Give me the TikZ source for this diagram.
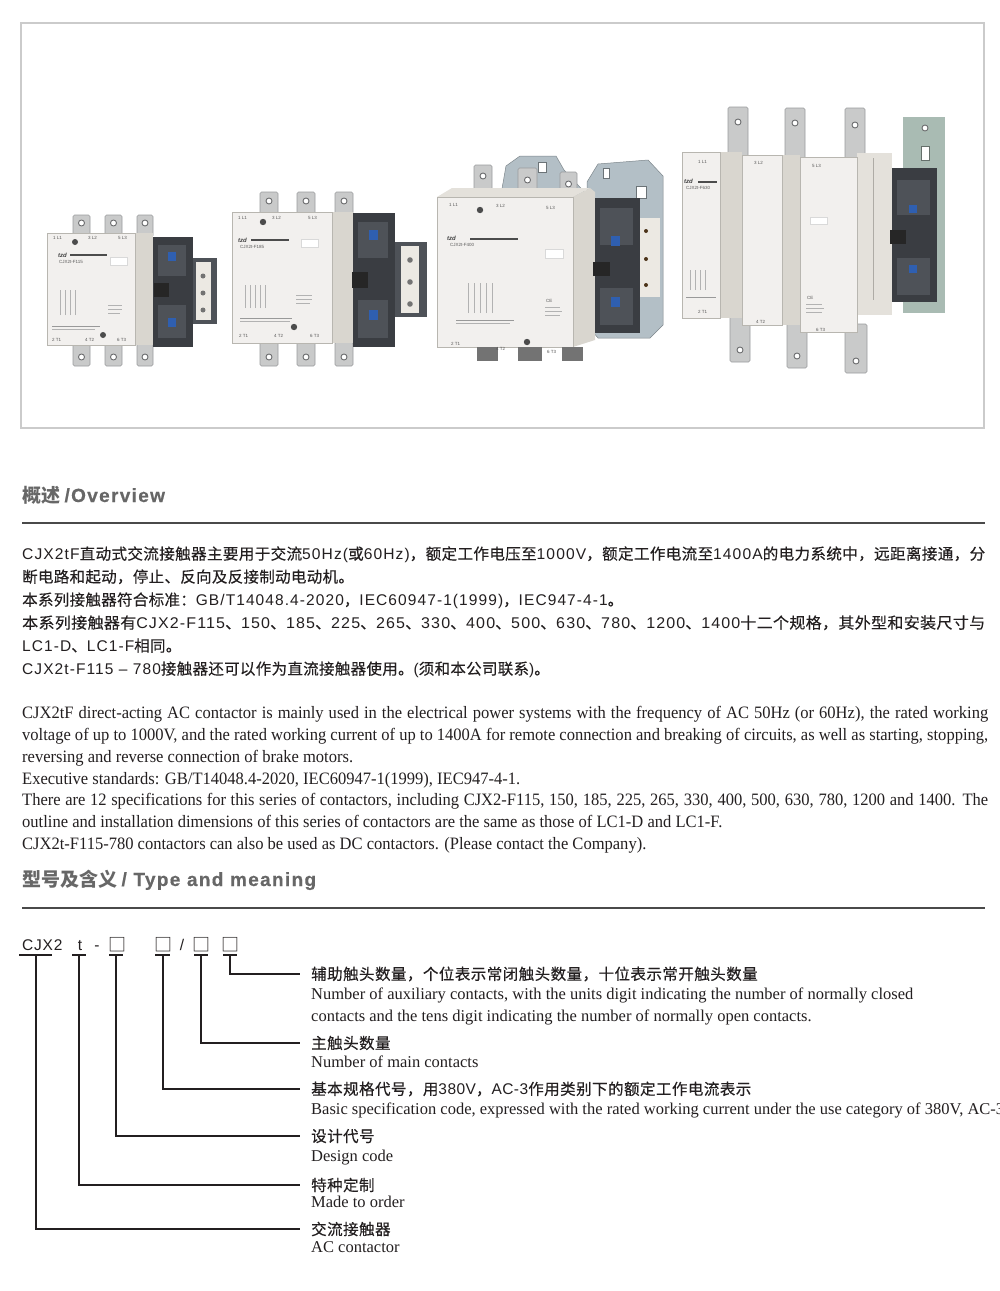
\documentclass[tikz,border=0pt]{standalone}
\usepackage{fontspec}
\usepackage{graphicx}
\setmainfont{Liberation Serif}
\setsansfont{Liberation Sans}
\newfontfamily\cjk{Noto Sans CJK SC}
\newfontfamily\cjkp{Noto Sans CJK SC}[LetterSpace=2, FakeBold=0.25]
\newfontfamily\cjkl{Noto Sans CJK SC}[LetterSpace=3, FakeBold=0.35]
\newfontfamily\lat{Liberation Sans}[LetterSpace=7]
\newfontfamily\latl{Liberation Sans}[LetterSpace=3]
\newfontfamily\latb{Liberation Sans}[LetterSpace=7, BoldFeatures={FakeBold=0.5}]
\newfontfamily\enov{Liberation Serif}[FakeStretch=0.95]
\newfontfamily\ensf{Liberation Sans}
\newcommand{\la}[1]{{\lat #1}}
\newcommand{\lb}[1]{{\latl #1}}
\definecolor{txt}{HTML}{231F20}
\definecolor{headc}{HTML}{676767}
\definecolor{rulec}{HTML}{4A4A4A}
\definecolor{framec}{HTML}{CBCBCB}
\definecolor{bodyf}{HTML}{F2F0EE}
\definecolor{bodys}{HTML}{D9D6CF}
\definecolor{bodyt}{HTML}{E4E1DB}
\definecolor{blackm}{HTML}{3A3D42}
\definecolor{blackl}{HTML}{4E5258}
\definecolor{metal}{HTML}{C9CACA}
\definecolor{metald}{HTML}{9A9C9E}
\definecolor{steel}{HTML}{B3BFC6}
\definecolor{greenm}{HTML}{A9BBB3}
\definecolor{bluec}{HTML}{2F5FB0}
\definecolor{auxc}{HTML}{ECE9E3}
\newcommand{\ctab}[5]{\draw[tabsty] (#1,#2) rectangle (#3,#4); \draw[hole] ({(#1+#3)/2},#5) circle (3);}
\begin{document}
\begin{tikzpicture}[x=1pt,y=-1pt,
  tabsty/.style={fill=metal, draw=metald, line width=0.6pt, rounded corners=1.5pt},
  hole/.style={fill=white, draw=metald!70!black, line width=0.9pt},
  front/.style={fill=bodyf, draw=bodys!85!black, line width=0.3pt},
  side/.style={fill=bodys},
  blk/.style={fill=blackm},
  tiny/.style={font=\ensf\fontsize{4.5}{5}\selectfont, text=black!65, inner sep=0pt, anchor=west},
  logo/.style={font=\ensf\bfseries\itshape\fontsize{6}{6}\selectfont, text=black!75, inner sep=0pt, anchor=west},
  screw/.style={fill=black!70},
  head/.style={font=\cjk\bfseries\fontsize{19}{22}\selectfont, text=headc, inner sep=0pt, anchor=base west},
  cn/.style={font=\cjkp\fontsize{15.5}{18}\selectfont, text=txt, inner sep=0pt, anchor=base west},
  en/.style={font=\enov\fontsize{17.4}{19}\selectfont, text=txt, inner sep=0pt, anchor=base west},
  code/.style={font=\ensf\fontsize{15.5}{18}\selectfont, text=txt, inner sep=0pt, anchor=base},
  bx/.style={font=\cjk\fontsize{18}{18}\selectfont, text=txt, inner sep=0pt, anchor=base},
  lcn/.style={font=\cjkl\fontsize{15.5}{18}\selectfont, text=txt, inner sep=0pt, anchor=west},
  len/.style={font=\fontsize{16.5}{19}\selectfont, text=txt, inner sep=0pt, anchor=base west},
  hrule/.style={draw=rulec, line width=1.2pt},
  uline/.style={draw=txt, line width=1.1pt},
  conn/.style={draw=txt, line width=1.1pt}
]
\useasboundingbox (0,0) rectangle (1000,1291);
\fill[white] (0,0) rectangle (1000,1291);

% ---------------- photo frame ----------------
\draw[framec, line width=2pt] (21,23) rectangle (984,428);

% ---------------- contactor 1 ----------------
\ctab{73}{215}{90}{237}{223}
\ctab{105}{215}{122}{237}{223}
\ctab{137}{215}{153}{237}{223}
\ctab{73}{342}{90}{366}{357}
\ctab{105}{342}{122}{366}{357}
\ctab{137}{342}{153}{366}{357}
\fill[blackl] (190,258) rectangle (217,324);
\fill[auxc] (196,262) rectangle (211,320);
\foreach \yy in {276,293,310} {\fill[black!55] (203,\yy) circle (2.5);}
\fill[side] (135,233) rectangle (153,345);
\draw[front] (47,233) rectangle (135,345);
\fill[blk] (153,237) rectangle (193,347);
\fill[blackl] (158,245) rectangle (186,276);
\fill[blackl] (158,305) rectangle (186,338);
\fill[bluec] (168,252) rectangle (176,261);
\fill[bluec] (168,318) rectangle (176,327);
\fill[black!85] (154,283) rectangle (169,297);
\fill[screw] (75,242) circle (3);
\fill[screw] (103,335) circle (3);
\node[tiny] (c1p1) at (53,238) {1 L1};
\node[tiny] (c1p2) at (88,238) {3 L2};
\node[tiny] (c1p3) at (118,238) {5 L3};
\node[tiny] (c1p4) at (52,340) {2 T1};
\node[tiny] (c1p5) at (85,340) {4 T2};
\node[tiny] (c1p6) at (117,340) {6 T3};
\node[logo] (c1l) at (58,255) {tzd};
\draw[black!70, line width=1.2pt] (70,255) -- (107,255);
\node[tiny] (c1m) at (59,262) {CJX2t-F115};
\draw[fill=white, draw=black!15] (110,257) rectangle (127,265);
\draw[black!30, line width=0.3pt] (58,290) grid[step=5] (78,315);
\draw[black!40, line width=0.8pt] (52,326) -- (100,326);
\draw[black!30, line width=0.5pt] (52,329) -- (95,329);
\draw[black!30, line width=0.5pt] (108,305) -- (122,305) (108,309) -- (122,309) (108,313) -- (120,313);

% ---------------- contactor 2 ----------------
\ctab{260}{192}{278}{214}{201}
\ctab{297}{192}{315}{214}{201}
\ctab{335}{192}{353}{214}{201}
\ctab{260}{342}{278}{366}{357}
\ctab{297}{342}{315}{366}{357}
\ctab{335}{342}{353}{366}{357}
\fill[blackl] (393,242) rectangle (427,317);
\fill[auxc] (401,246) rectangle (419,313);
\foreach \yy in {260,282,304} {\fill[black!55] (410,\yy) circle (2.8);}
\fill[side] (332,212) rectangle (353,343);
\draw[front] (232,212) rectangle (332,343);
\fill[blk] (353,213) rectangle (395,347);
\fill[blackl] (358,222) rectangle (388,258);
\fill[blackl] (358,300) rectangle (388,338);
\fill[bluec] (369,230) rectangle (378,240);
\fill[bluec] (369,310) rectangle (378,320);
\fill[black!85] (352,272) rectangle (368,288);
\fill[screw] (263,222) circle (3.2);
\fill[screw] (294,327) circle (3.2);
\node[tiny] (c2p1) at (238,218) {1 L1};
\node[tiny] (c2p2) at (272,218) {3 L2};
\node[tiny] (c2p3) at (308,218) {5 L3};
\node[tiny] (c2p4) at (239,336) {2 T1};
\node[tiny] (c2p5) at (274,336) {4 T2};
\node[tiny] (c2p6) at (310,336) {6 T3};
\node[logo] (c2l) at (238,240) {tzd};
\draw[black!70, line width=1.2pt] (251,240) -- (289,240);
\node[tiny] (c2m) at (240,247) {CJX2t-F185};
\draw[fill=white, draw=black!15] (301,239) rectangle (318,247);
\draw[black!30, line width=0.3pt] (245,285) grid[step=5] (265,308);
\draw[black!40, line width=0.8pt] (240,318) -- (292,318);
\draw[black!30, line width=0.5pt] (240,321) -- (290,321);
\draw[black!30, line width=0.5pt] (296,295) -- (312,295) (296,299) -- (312,299) (296,303) -- (310,303);

% ---------------- contactor 3 ----------------
\draw[fill=steel, draw=steel!70!black, line width=0.5pt] (500,200) -- (506,166) -- (520,156) -- (556,156) -- (564,170) -- (590,198) -- cycle;
\draw[fill=white, draw=steel!60!black] (538,162) rectangle (546,172);
\draw[fill=steel, draw=steel!70!black, line width=0.5pt] (587,182) -- (598,164) -- (648,160) -- (663,176) -- (663,325) -- (650,338) -- (598,338) -- (587,325) -- cycle;
\draw[fill=white, draw=steel!60!black] (603,168) rectangle (609,178);
\draw[fill=white, draw=steel!60!black] (636,186) rectangle (646,198);
\ctab{474}{165}{492}{196}{176}
\ctab{518}{168}{537}{196}{180}
\ctab{560}{172}{577}{198}{184}
\fill[bodyt] (437,197) -- (452,188) -- (590,188) -- (573,197) -- cycle;
\fill[side] (573,197) -- (590,188) -- (595,192) -- (595,340) -- (573,347) -- cycle;
\draw[front] (437,197) rectangle (573,347);
\fill[auxc] (640,218) rectangle (660,297);
\foreach \yy in {231,259,285} {\fill[black!60!brown] (646,\yy) circle (2);}
\fill[blk] (595,198) rectangle (640,333);
\fill[blackl] (600,208) rectangle (633,245);
\fill[blackl] (600,288) rectangle (633,325);
\fill[bluec] (611,236) rectangle (620,246);
\fill[bluec] (611,297) rectangle (620,307);
\fill[black!85] (593,262) rectangle (610,276);
\fill[black!55] (477,347) rectangle (498,361);
\fill[black!55] (518,347) rectangle (542,361);
\fill[black!55] (562,347) rectangle (583,361);
\fill[screw] (480,210) circle (3.2);
\fill[screw] (527,342) circle (3.2);
\node[tiny] (c3p1) at (449,205) {1 L1};
\node[tiny] (c3p2) at (496,206) {3 L2};
\node[tiny] (c3p3) at (546,208) {5 L3};
\node[tiny] (c3p4) at (451,344) {2 T1};
\node[tiny] (c3p5) at (496,349) {4 T2};
\node[tiny] (c3p6) at (547,352) {6 T3};
\node[logo] (c3l) at (447,238) {tzd};
\draw[black!70, line width=1.2pt] (470,239) -- (518,239);
\node[tiny] (c3m) at (450,245) {CJX2t-F400};
\draw[fill=white, draw=black!15] (545,249) rectangle (563,258);
\draw[black!30, line width=0.3pt] (465,283) grid[step=6] (495,313);
\draw[black!40, line width=0.8pt] (456,320) -- (514,320);
\draw[black!30, line width=0.5pt] (456,323) -- (510,323);
\node[tiny] (c3c) at (546,301) {CE};
\draw[black!30, line width=0.5pt] (545,307) -- (560,307) (545,311) -- (562,311) (545,315) -- (560,315);

% ---------------- contactor 4 ----------------
\fill[greenm] (903,117) rectangle (945,313);
\draw[hole] (925,128) circle (3);
\draw[fill=white, draw=greenm!60!black] (921,146) rectangle (929,160);
\ctab{728}{107}{748}{162}{122}
\ctab{785}{108}{805}{164}{123}
\ctab{845}{108}{865}{165}{125}
\ctab{730}{312}{750}{362}{350}
\ctab{787}{318}{807}{368}{356}
\ctab{845}{324}{867}{373}{361}
\fill[bodyt] (857,153) rectangle (892,315);
\draw[bodys!80!black, line width=0.6pt] (873,158) -- (873,300);
\fill[side] (720,152) rectangle (742,318);
\draw[front] (682,152) rectangle (720,318);
\fill[side] (782,155) rectangle (800,325);
\draw[front] (742,155) rectangle (782,325);
\draw[front] (800,157) rectangle (857,332);
\fill[blk] (892,168) rectangle (937,302);
\fill[blackl] (897,180) rectangle (930,215);
\fill[blackl] (897,258) rectangle (930,295);
\fill[bluec] (909,205) rectangle (917,213);
\fill[bluec] (909,265) rectangle (917,273);
\fill[black!85] (890,230) rectangle (906,244);
\node[tiny] (c4p1) at (698,162) {1 L1};
\node[tiny] (c4p2) at (754,163) {3 L2};
\node[tiny] (c4p3) at (812,166) {5 L3};
\node[tiny] (c4p4) at (698,312) {2 T1};
\node[tiny] (c4p5) at (756,322) {4 T2};
\node[tiny] (c4p6) at (816,330) {6 T3};
\node[logo] (c4l) at (684,181) {tzd};
\draw[black!70, line width=1.2pt] (698,182) -- (717,182);
\node[tiny] (c4m) at (686,188) {CJX2t-F630};
\draw[fill=white, draw=black!15] (810,217) rectangle (827,224);
\draw[black!30, line width=0.3pt] (688,270) grid[step=5] (708,290);
\draw[black!40, line width=0.8pt] (686,297) -- (716,297);
\node[tiny] (c4c) at (807,298) {CE};
\draw[black!30, line width=0.5pt] (806,304) -- (822,304) (806,308) -- (824,308) (806,312) -- (822,312);

% ---------------- overview ----------------
\node[head] (h1) at (22,502) {概述 {\latb\bfseries /Overview}};
\draw[hrule] (22,523) -- (985,523);

\node[cn] (z1) at (22,559.5) {\resizebox{963pt}{\height}{\la{CJX2tF}直动式交流接触器主要用于交流\la{50Hz(}或\la{60Hz)}，额定工作电压至\la{1000V}，额定工作电流至\la{1400A}的电力系统中，远距离接通，分}};
\node[cn] (z2) at (22,582.5) {断电路和起动，停止、反向及反接制动电动机。};
\node[cn] (z3) at (22,605.5) {本系列接触器符合标准：\la{GB/T14048.4-2020}，\la{IEC60947-1(1999)}，\la{IEC947-4-1}。};
\node[cn] (z4) at (22,628.5) {\resizebox{963pt}{\height}{本系列接触器有\la{CJX2-F115}、\la{150}、\la{185}、\la{225}、\la{265}、\la{330}、\la{400}、\la{500}、\la{630}、\la{780}、\la{1200}、\la{1400}十二个规格，其外型和安装尺寸与}};
\node[cn] (z5) at (22,651.5) {\la{LC1-D}、\la{LC1-F}相同。};
\node[cn] (z6) at (22,674.5) {\la{CJX2t-F115 – 780}接触器还可以作为直流接触器使用。\la{(}须和本公司联系\la{)}。};

\node[en] (e1) at (22,718) {\makebox[966pt][s]{CJX2tF direct-acting AC contactor is mainly used in the electrical power systems with the frequency of AC 50Hz (or 60Hz), the rated working}};
\node[en] (e2) at (22,740) {\makebox[966pt][s]{voltage of up to 1000V, and the rated working current of up to 1400A for remote connection and breaking of circuits, as well as starting, stopping,}};
\node[en] (e3) at (22,762) {reversing and reverse connection of brake motors.};
\node[en] (e4) at (22,784) {Executive standards: GB/T14048.4-2020, IEC60947-1(1999), IEC947-4-1.};
\node[en] (e5) at (22,805) {\makebox[966pt][s]{There are 12 specifications for this series of contactors, including CJX2-F115, 150, 185, 225, 265, 330, 400, 500, 630, 780, 1200 and 1400. The}};
\node[en] (e6) at (22,827) {outline and installation dimensions of this series of contactors are the same as those of LC1-D and LC1-F.};
\node[en] (e7) at (22,849) {CJX2t-F115-780 contactors can also be used as DC contactors. (Please contact the Company).};

% ---------------- type and meaning ----------------
\node[head] (h2) at (22,886) {型号及含义 {\latb\bfseries / Type and meaning}};
\draw[hrule] (22,908) -- (985,908);

\node[code, anchor=base west] (k0) at (22,950) {\addfontfeature{LetterSpace=5}CJX2};
\node[code] (k1) at (80,950) {t};
\node[code] (kd) at (97,950) {-};
\node[bx] (k2) at (117,951) {□};
\node[bx] (k3) at (163,951) {□};
\node[code] (ks) at (182,950) {/};
\node[bx] (k4) at (201,951) {□};
\node[bx] (k5) at (230,951) {□};

\coordinate (u0) at (36,955);
\coordinate (u1) at (79,955);
\coordinate (u2) at (116,955);
\coordinate (u3) at (163,955);
\coordinate (u4) at (201,955);
\coordinate (u5) at (230,955);
\draw[uline] ([xshift=-17pt]u0) -- ([xshift=16pt]u0);
\draw[uline] ([xshift=-7pt]u1) -- ([xshift=7pt]u1);
\draw[uline] ([xshift=-7pt]u2) -- ([xshift=7pt]u2);
\draw[uline] ([xshift=-8pt]u3) -- ([xshift=7pt]u3);
\draw[uline] ([xshift=-7pt]u4) -- ([xshift=7pt]u4);
\draw[uline] ([xshift=-7pt]u5) -- ([xshift=7pt]u5);

\coordinate (t5) at (300,974);
\coordinate (t4) at (300,1043);
\coordinate (t3) at (300,1089);
\coordinate (t2) at (300,1136);
\coordinate (t1) at (300,1185);
\coordinate (t0) at (300,1229);

\node[lcn] (l5) at ([xshift=11pt]t5) {辅助触头数量，个位表示常闭触头数量，十位表示常开触头数量};
\node[len] (m5a) at (311,999) {Number of auxiliary contacts, with the units digit indicating the number of normally closed};
\node[len] (m5b) at (311,1021) {contacts and the tens digit indicating the number of normally open contacts.};
\node[lcn] (l4) at ([xshift=11pt]t4) {主触头数量};
\node[len] (m4) at (311,1067) {Number of main contacts};
\node[lcn] (l3) at ([xshift=11pt]t3) {基本规格代号，用\lb{380V}，\lb{AC-3}作用类别下的额定工作电流表示};
\node[len] (m3) at (311,1114) {Basic specification code, expressed with the rated working current under the use category of 380V, AC-3};
\node[lcn] (l2) at ([xshift=11pt]t2) {设计代号};
\node[len] (m2) at (311,1161) {Design code};
\node[lcn] (l1) at ([xshift=11pt]t1) {特种定制};
\node[len] (m1) at (311,1207) {Made to order};
\node[lcn] (l0) at ([xshift=11pt]t0) {交流接触器};
\node[len] (m0) at (311,1252) {AC contactor};

\draw[conn] (u5) |- (t5);
\draw[conn] (u4) |- (t4);
\draw[conn] (u3) |- (t3);
\draw[conn] (u2) |- (t2);
\draw[conn] (u1) |- (t1);
\draw[conn] (u0) |- (t0);
\end{tikzpicture}
\end{document}
